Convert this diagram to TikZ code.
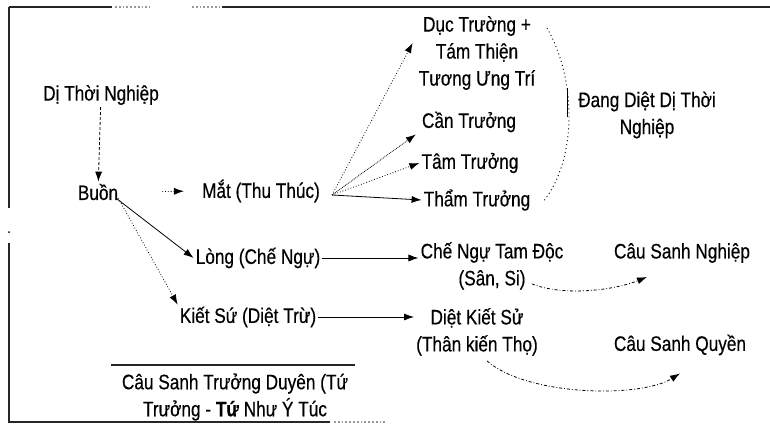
\documentclass[tikz,border=0pt]{standalone}
\usepackage{fontspec}
\setmainfont{Liberation Sans}[FakeStretch=0.82, FakeBold=0.4]
\usetikzlibrary{arrows.meta}

\begin{document}
\begin{tikzpicture}[x=1pt, y=-1pt,
	txt/.style={font=\fontsize{21}{27}\selectfont, align=center, inner sep=2pt},
	link/.style={line width=0.8pt, -{Latex[length=10pt, width=7pt]}},
	sparse/.style={dash pattern=on 1pt off 3pt},
	frame/.style={line width=1.8pt, black!85}]
	\useasboundingbox (0,0) rectangle (770,433);
	% Frame:
	\draw[frame] (9,7) -- (112,7);
	\draw[frame] (222,7) -- (770,7);
	\draw[frame, black!40, dotted] (115,7) -- (150,7) (192,7) -- (222,7);
	\draw[frame] (9,7) -- (9,208);
	\draw[frame] (9,243) -- (9,422) -- (330,422);
	\draw[frame, black!40, dotted] (334,422) -- (385,422);
	\fill (9,232) circle (1pt);

	% Nodes:
	\node[txt](N1) at (101,95){Dị Thời Nghiệp};
	\node[txt](N2) at (98,192){Buồn};
	\node[txt](N3) at (261,191){Mắt (Thu Thúc)};
	\node[txt](N4) at (477,53){Dục Trường +\\Tám Thiện\\Tương Ưng Trí};
	\node[txt](N5) at (469,122){Cần Trưởng};
	\node[txt](N6) at (470,163){Tâm Trưởng};
	\node[txt](N7) at (477,200){Thẩm Trưởng};
	\node[txt](N8) at (647,115){Đang Diệt Dị Thời\\Nghiệp};
	\node[txt](N9) at (258,258){Lòng (Chế Ngự)};
	\node[txt](N10) at (492,266){Chế Ngự Tam Độc\\(Sân, Si)};
	\node[txt](N11) at (682,253){Câu Sanh Nghiệp};
	\node[txt](N12) at (248,317){Kiết Sứ (Diệt Trừ)};
	\node[txt](N13) at (477,332){Diệt Kiết Sử\\(Thân kiến Thọ)};
	\node[txt](N14) at (680,345){Câu Sanh Quyền};
	\node[txt](N15) at (235,397){Câu Sanh Trưởng Duyên (Tứ\\Trưởng - \textbf{Tứ} Như Ý Túc};
	\draw[line width=1.2pt, black!85] (111,365) -- (355,365);

	% Links:
	\draw[link, dash pattern=on 3pt off 2pt] (N1) -- (N2);
	\draw[link, dotted, shorten <=42pt, shorten >=16pt] (N2.east) -- (N3.west);
	\coordinate (N3c) at ([xshift=10pt, yshift=-4pt]N3.east);
	\draw[link, dotted] (N3c) -- ([xshift=-4pt, yshift=10pt]N4.west);
	\draw[link, densely dotted] (N3c) -- ([xshift=-4pt]N5.south west);
	\draw[link, dotted] (N3c) -- (N6.west);
	\draw[link] (N3c) -- (N7.west);
	\draw[link] ([xshift=-4pt, yshift=4pt]N2.south east) -- (N9.west);
	\draw[link, dotted] ([xshift=-2pt, yshift=4pt]N2.south east) -- (N12.north west);
	\draw[link] (N9.east) -- (N9.east -| N10.west);
	\draw[link] (N12.east) -- (N12.east -| N13.west);
	\draw[link, dash dot] ([xshift=40pt, yshift=8pt]N10.south)
		.. controls +(30,12) and +(-35,14) .. ([xshift=-35pt, yshift=-12pt]N11.south);
	\draw[link, dash dot] ([xshift=10pt, yshift=-3pt]N13.south)
		.. controls +(40,35) and +(-40,25) .. ([yshift=-16pt]N14.south);

	% Brace round the four parts:
	\draw[line width=0.9pt, sparse] (547,28) .. controls (577,80) and (577,160) .. (543,202);
	\draw[line width=1pt] (567,88) -- (567,117);
\end{tikzpicture}
\end{document}
